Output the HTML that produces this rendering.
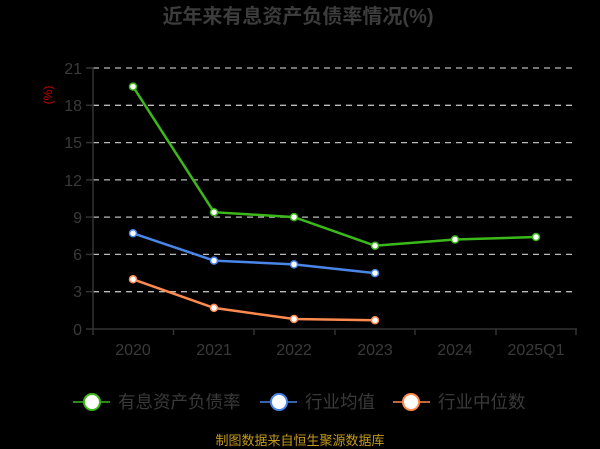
<!DOCTYPE html>
<html><head><meta charset="utf-8"><style>
body{margin:0;background:#000;width:600px;height:449px;overflow:hidden}
svg{display:block;font-family:"Liberation Sans","Noto Sans CJK SC",sans-serif}
</style></head><body>
<svg width="600" height="449" viewBox="0 0 600 449">
<rect width="600" height="449" fill="#000"/>
<text x="298" y="23" text-anchor="middle" font-size="20" font-weight="bold" fill="#3c3c3c">近年来有息资产负债率情况(%)</text>
<g stroke="#bbb" stroke-width="1.3" stroke-dasharray="6,5">
<line x1="93" x2="576" y1="68" y2="68"/><line x1="93" x2="576" y1="105.3" y2="105.3"/>
<line x1="93" x2="576" y1="142.6" y2="142.6"/><line x1="93" x2="576" y1="179.9" y2="179.9"/>
<line x1="93" x2="576" y1="217.1" y2="217.1"/><line x1="93" x2="576" y1="254.4" y2="254.4"/>
<line x1="93" x2="576" y1="291.7" y2="291.7"/>
</g>
<g stroke="#333" stroke-width="1.5" fill="none">
<line x1="93" y1="67" x2="93" y2="335"/>
<line x1="86" y1="329" x2="577" y2="329"/>
<line x1="86" y1="68" x2="93" y2="68"/><line x1="86" y1="105.3" x2="93" y2="105.3"/><line x1="86" y1="142.6" x2="93" y2="142.6"/><line x1="86" y1="179.9" x2="93" y2="179.9"/><line x1="86" y1="217.1" x2="93" y2="217.1"/><line x1="86" y1="254.4" x2="93" y2="254.4"/><line x1="86" y1="291.7" x2="93" y2="291.7"/>
<line x1="173.5" y1="329" x2="173.5" y2="335"/><line x1="254" y1="329" x2="254" y2="335"/><line x1="335" y1="329" x2="335" y2="335"/><line x1="415" y1="329" x2="415" y2="335"/><line x1="496" y1="329" x2="496" y2="335"/><line x1="576" y1="329" x2="576" y2="335"/>
</g>
<g font-size="16" fill="#3a3a3a" text-anchor="end">
<text x="82" y="74">21</text><text x="82" y="111">18</text><text x="82" y="148">15</text><text x="82" y="186">12</text><text x="82" y="223">9</text><text x="82" y="260">6</text><text x="82" y="297">3</text><text x="82" y="335">0</text>
</g>
<g font-size="16" fill="#3a3a3a" text-anchor="middle">
<text x="133" y="355">2020</text><text x="214" y="355">2021</text><text x="294" y="355">2022</text><text x="375" y="355">2023</text><text x="455" y="355">2024</text><text x="536" y="355">2025Q1</text>
</g>
<text transform="translate(52,95) rotate(-90)" text-anchor="middle" font-size="12" fill="#c00">(%)</text>
<polyline fill="none" stroke="#ff8a50" stroke-width="2.5" points="133,279.3 214,307.9 294,319 375,320.3"/>
<polyline fill="none" stroke="#4a86e8" stroke-width="2.5" points="133,233.3 214,260.6 294,264.4 375,273.1"/>
<polyline fill="none" stroke="#3cb81a" stroke-width="2.5" points="133,86.6 214,212.2 294,217.1 375,245.7 455,239.5 536,237"/>
<g fill="#fff" stroke-width="1.5">
<g stroke="#ff8a50"><circle cx="133" cy="279.3" r="3.5"/><circle cx="214" cy="307.9" r="3.5"/><circle cx="294" cy="319" r="3.5"/><circle cx="375" cy="320.3" r="3.5"/></g>
<g stroke="#4a86e8"><circle cx="133" cy="233.3" r="3.5"/><circle cx="214" cy="260.6" r="3.5"/><circle cx="294" cy="264.4" r="3.5"/><circle cx="375" cy="273.1" r="3.5"/></g>
<g stroke="#3cb81a"><circle cx="133" cy="86.6" r="3.5"/><circle cx="214" cy="212.2" r="3.5"/><circle cx="294" cy="217.1" r="3.5"/><circle cx="375" cy="245.7" r="3.5"/><circle cx="455" cy="239.5" r="3.5"/><circle cx="536" cy="237" r="3.5"/></g>
</g>
<g stroke-width="1.5">
<line x1="73" y1="402" x2="110" y2="402" stroke="#3cb81a"/><circle cx="92" cy="402" r="8" fill="#fff" stroke="#3cb81a" stroke-width="2"/>
<line x1="260" y1="402" x2="297" y2="402" stroke="#4a86e8"/><circle cx="279" cy="402" r="8" fill="#fff" stroke="#4a86e8" stroke-width="2"/>
<line x1="393" y1="402" x2="430" y2="402" stroke="#ff8a50"/><circle cx="411" cy="402" r="8" fill="#fff" stroke="#ff8a50" stroke-width="2"/>
</g>
<g font-size="17.5" fill="#3a3a3a">
<text x="118" y="408">有息资产负债率</text><text x="305" y="408">行业均值</text><text x="438" y="408">行业中位数</text>
</g>
<text x="300" y="445" text-anchor="middle" font-size="13" fill="#c49a1a">制图数据来自恒生聚源数据库</text>
</svg>
</body></html>
